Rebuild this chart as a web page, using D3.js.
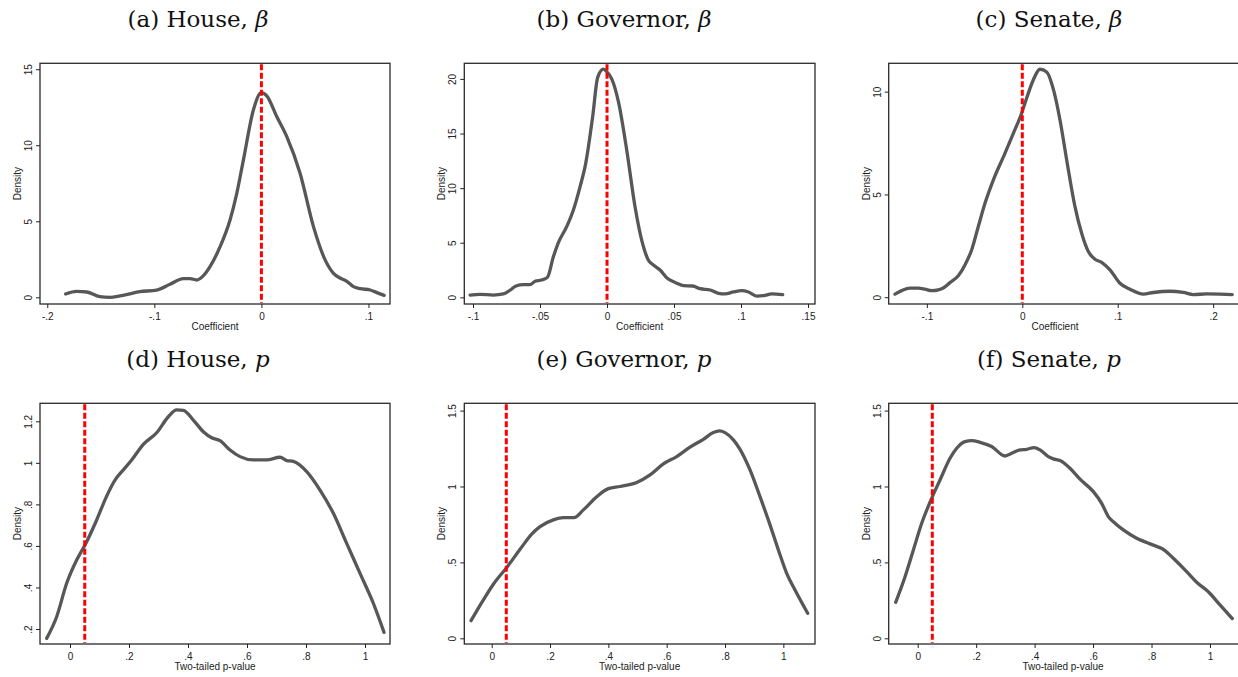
<!DOCTYPE html>
<html>
<head>
<meta charset="utf-8">
<script src="https://cdn.jsdelivr.net/npm/d3@7"></script>
<style>
  html, body { margin: 0; padding: 0; background: #fff; overflow: hidden; }
  svg { display: block; }
</style>
</head>
<body>
<svg id="chart" width="1238" height="677"></svg>
<script>
// Kernel density estimates of the coefficient (beta) and two-tailed p-value
// across specifications, by office.

const houseBetaX = [-0.1829,-0.1726,-0.163,-0.151,-0.1414,-0.132,-0.1134,-0.0978,-0.0854,-0.0729,-0.0667,-0.0604,-0.0551,-0.048,-0.0386,-0.0293,-0.023,-0.0168,-0.0075,0,0.005,0.0143,0.0237,0.0361,0.0486,0.0595,0.0673,0.0735,0.0798,0.086,0.0922,0.1016,0.1078,0.1146];
const houseBetaY = [0.22,0.39,0.35,0.04,0.0,0.09,0.37,0.48,0.86,1.23,1.23,1.14,1.36,2.02,3.33,5.09,6.84,9.04,12.32,13.46,13.25,11.89,10.57,8.16,4.65,2.46,1.58,1.27,1.05,0.70,0.57,0.48,0.31,0.13];

const govBetaX = [-0.1022,-0.0948,-0.0848,-0.0774,-0.0729,-0.0679,-0.0624,-0.0575,-0.0537,-0.0488,-0.0445,-0.04,-0.0363,-0.0301,-0.0251,-0.0201,-0.0159,-0.0107,-0.007,-0.0027,-0.0002,0.0035,0.0085,0.0147,0.0209,0.0266,0.0308,0.0346,0.0396,0.045,0.0507,0.057,0.0639,0.0694,0.0769,0.0831,0.0881,0.0943,0.1005,0.1055,0.1117,0.1167,0.1229,0.1311];
const govBetaY = [0.21,0.27,0.21,0.31,0.61,1.04,1.16,1.16,1.47,1.59,1.83,3.73,5.01,6.47,8.0,10.14,12.27,16.55,20.12,20.89,20.67,20.0,17.92,13.5,8.3,4.89,3.42,2.96,2.50,1.74,1.37,1.07,1.04,0.79,0.67,0.37,0.31,0.49,0.61,0.49,0.12,0.15,0.31,0.24];

const senBetaX = [-0.1334,-0.1264,-0.1177,-0.109,-0.102,-0.095,-0.088,-0.0828,-0.0758,-0.0671,-0.0601,-0.0531,-0.0461,-0.0391,-0.0304,-0.0182,-0.0094,-0.0007,0.0045,0.0115,0.0185,0.0255,0.0332,0.0395,0.0465,0.0552,0.0622,0.0692,0.0761,0.0831,0.0919,0.1023,0.1128,0.1268,0.1373,0.1547,0.1687,0.1792,0.1932,0.2071,0.22];
const senBetaY = [0.15,0.32,0.44,0.44,0.39,0.32,0.36,0.45,0.71,1.04,1.57,2.30,3.44,4.57,5.70,7.0,7.97,8.95,9.68,10.57,11.09,10.96,10.0,8.62,6.68,4.41,3.11,2.22,1.85,1.70,1.33,0.68,0.39,0.15,0.23,0.29,0.23,0.13,0.16,0.15,0.13];

const housePX = [-0.0791,-0.0452,-0.0113,0.0226,0.0508,0.0904,0.1243,0.1525,0.1808,0.209,0.2486,0.2938,0.3333,0.3616,0.3842,0.418,0.452,0.4802,0.5085,0.5424,0.5763,0.6215,0.6667,0.7119,0.7345,0.7571,0.8023,0.8475,0.8927,0.9379,0.9831,1.0282,1.0644];
const housePY = [0.155,0.259,0.42,0.532,0.604,0.725,0.84,0.917,0.966,1.014,1.089,1.145,1.222,1.255,1.253,1.206,1.150,1.121,1.107,1.062,1.03,1.014,1.014,1.027,1.011,1.007,0.958,0.869,0.757,0.612,0.468,0.324,0.184];

const govPX = [-0.0709,-0.0286,0.0057,0.0537,0.0971,0.1371,0.1657,0.2114,0.2457,0.2823,0.3143,0.36,0.4,0.44,0.4971,0.5429,0.5886,0.6343,0.68,0.7257,0.76,0.7806,0.8,0.8286,0.8514,0.8857,0.92,0.9543,0.9829,1.0114,1.04,1.0834];
const govPY = [0.116,0.253,0.356,0.472,0.586,0.687,0.736,0.78,0.795,0.795,0.846,0.933,0.986,1.0,1.026,1.076,1.149,1.197,1.259,1.311,1.355,1.366,1.355,1.307,1.245,1.109,0.933,0.747,0.582,0.428,0.318,0.165];

const senPX = [-0.0753,-0.0433,-0.0148,0.0137,0.0479,0.0764,0.1106,0.1334,0.1619,0.1847,0.2132,0.2531,0.2987,0.3215,0.35,0.3728,0.3979,0.4184,0.447,0.464,0.4869,0.521,0.5553,0.601,0.6294,0.6522,0.675,0.7036,0.749,0.7948,0.846,0.8746,0.9202,0.9544,0.9943,1.0342,1.0764];
const senPY = [0.237,0.406,0.582,0.758,0.922,1.043,1.186,1.252,1.296,1.302,1.291,1.263,1.201,1.219,1.241,1.245,1.256,1.241,1.197,1.182,1.171,1.120,1.048,0.966,0.889,0.802,0.758,0.714,0.659,0.622,0.578,0.527,0.439,0.369,0.307,0.220,0.130];

// Tick values and their labels
const houseBetaXTicks = [-0.2, -0.1, 0, 0.1];
const houseBetaXLabels = ["-.2", "-.1", "0", ".1"];
const houseBetaYTicks = [0, 5, 10, 15];
const houseBetaYLabels = ["0", "5", "10", "15"];

const govBetaXTicks = [-0.1, -0.05, 0, 0.05, 0.1, 0.15];
const govBetaXLabels = ["-.1", "-.05", "0", ".05", ".1", ".15"];
const govBetaYTicks = [0, 5, 10, 15, 20];
const govBetaYLabels = ["0", "5", "10", "15", "20"];

const senBetaXTicks = [-0.1, 0, 0.1, 0.2];
const senBetaXLabels = ["-.1", "0", ".1", ".2"];
const senBetaYTicks = [0, 5, 10];
const senBetaYLabels = ["0", "5", "10"];

const pXTicks = [0, 0.2, 0.4, 0.6, 0.8, 1];
const pXLabels = ["0", ".2", ".4", ".6", ".8", "1"];
const housePYTicks = [0.2, 0.4, 0.6, 0.8, 1, 1.2];
const housePYLabels = [".2", ".4", ".6", ".8", "1", "1.2"];
const otherPYTicks = [0, 0.5, 1, 1.5];
const otherPYLabels = ["0", ".5", "1", "1.5"];

// Reference lines: zero effect and the .05 significance threshold
const betaRef = 0;
const pRef = 0.05;

const titles = [
  ["(a) House, ", "β"], ["(b) Governor, ", "β"], ["(c) Senate, ", "β"],
  ["(d) House, ", "p"], ["(e) Governor, ", "p"], ["(f) Senate, ", "p"]
];

// Panel layout (frame box in pixels, visible data domain)
const panels = [
  { x: houseBetaX, y: houseBetaY, xt: houseBetaXTicks, xl: houseBetaXLabels, yt: houseBetaYTicks, yl: houseBetaYLabels,
    ref: betaRef, xlab: "Coefficient", box: [40, 63.3, 390, 304], xd: [-0.2068, 0.1201], yd: [-0.44, 15.39], title: titles[0], tx: 198, ty: 27 },
  { x: govBetaX, y: govBetaY, xt: govBetaXTicks, xl: govBetaXLabels, yt: govBetaYTicks, yl: govBetaYLabels,
    ref: betaRef, xlab: "Coefficient", box: [464.3, 63.3, 815, 304], xd: [-0.1065, 0.1552], yd: [-0.61, 21.43], title: titles[1], tx: 624, ty: 27 },
  { x: senBetaX, y: senBetaY, xt: senBetaXTicks, xl: senBetaXLabels, yt: senBetaYTicks, yl: senBetaYLabels,
    ref: betaRef, xlab: "Coefficient", box: [888.7, 63.3, 1250, 304], xd: [-0.14, 0.2386], yd: [-0.33, 11.38], title: titles[2], tx: 1049, ty: 27, labX: 1055 },
  { x: housePX, y: housePY, xt: pXTicks, xl: pXLabels, yt: housePYTicks, yl: housePYLabels,
    ref: pRef, xlab: "Two-tailed p-value", box: [40, 403.3, 390, 644], xd: [-0.1017, 1.0847], yd: [0.1278, 1.2867], title: titles[3], tx: 198, ty: 367 },
  { x: govPX, y: govPY, xt: pXTicks, xl: pXLabels, yt: otherPYTicks, yl: otherPYLabels,
    ref: pRef, xlab: "Two-tailed p-value", box: [464.3, 403.3, 815, 644], xd: [-0.094, 1.1085], yd: [-0.0375, 1.548], title: titles[4], tx: 624, ty: 367 },
  { x: senPX, y: senPY, xt: pXTicks, xl: pXLabels, yt: otherPYTicks, yl: otherPYLabels,
    ref: pRef, xlab: "Two-tailed p-value", box: [888.7, 403.3, 1250, 644], xd: [-0.0992, 1.1369], yd: [-0.0375, 1.548], title: titles[5], tx: 1049, ty: 367, labX: 1063 }
];

const svg = d3.select("#chart");
const sans = "'Liberation Sans', Arial, Helvetica, sans-serif";
const serif = "'DejaVu Serif', 'Liberation Serif', serif";

panels.forEach(p => {
  const [x0, y0, x1, y1] = p.box;
  const xs = d3.scaleLinear().domain(p.xd).range([x0, x1]);
  const ys = d3.scaleLinear().domain(p.yd).range([y1, y0]);
  const g = svg.append("g");

  // Panel title
  const t = g.append("text")
    .attr("x", p.tx).attr("y", p.ty)
    .attr("text-anchor", "middle")
    .attr("font-family", serif).attr("font-size", 23)
    .attr("fill", "#111");
  t.append("tspan").text(p.title[0]);
  t.append("tspan").attr("font-style", "italic").text(p.title[1]);

  // Density curve
  const pts = p.x.map((v, i) => [v, p.y[i]]);
  g.append("path")
    .datum(pts)
    .attr("fill", "none")
    .attr("stroke", "#575757")
    .attr("stroke-width", 3.3)
    .attr("stroke-linejoin", "round")
    .attr("stroke-linecap", "round")
    .attr("d", d3.line().x(d => xs(d[0])).y(d => ys(d[1])).curve(d3.curveMonotoneX));

  // Reference line
  g.append("line")
    .attr("x1", xs(p.ref)).attr("x2", xs(p.ref))
    .attr("y1", y0 + 1).attr("y2", y1 - 1)
    .attr("stroke", "#ff0000")
    .attr("stroke-width", 3)
    .attr("stroke-dasharray", "6,2.5");

  // Plot region outline
  g.append("rect")
    .attr("x", x0).attr("y", y0)
    .attr("width", x1 - x0).attr("height", y1 - y0)
    .attr("fill", "none")
    .attr("stroke", "#2a2a2a")
    .attr("stroke-width", 1.3);

  // X axis
  const xAxis = d3.axisBottom(xs)
    .tickValues(p.xt)
    .tickFormat((d, i) => p.xl[i])
    .tickSize(4).tickSizeOuter(0).tickPadding(5);
  const xg = g.append("g").attr("transform", `translate(0,${y1})`).call(xAxis);
  xg.select(".domain").remove();
  xg.selectAll("line").attr("stroke", "#222").attr("stroke-width", 1);
  xg.selectAll("text").attr("font-family", sans).attr("font-size", 10).attr("fill", "#222");

  // Y axis with vertical labels
  const yAxis = d3.axisLeft(ys)
    .tickValues(p.yt)
    .tickFormat((d, i) => p.yl[i])
    .tickSize(4).tickSizeOuter(0);
  const yg = g.append("g").attr("transform", `translate(${x0},0)`).call(yAxis);
  yg.select(".domain").remove();
  yg.selectAll("line").attr("stroke", "#222").attr("stroke-width", 1);
  yg.selectAll("text")
    .attr("font-family", sans).attr("font-size", 10).attr("fill", "#222")
    .attr("x", null).attr("dy", null)
    .attr("text-anchor", "middle")
    .attr("transform", "translate(-8,0) rotate(-90)")
    .attr("y", 0);

  // Axis titles
  g.append("text")
    .attr("x", p.labX !== undefined ? p.labX : (x0 + x1) / 2)
    .attr("y", y1 + 26)
    .attr("text-anchor", "middle")
    .attr("font-family", sans).attr("font-size", 10).attr("fill", "#222")
    .text(p.xlab);
  g.append("text")
    .attr("transform", `translate(${x0 - 19},${(y0 + y1) / 2}) rotate(-90)`)
    .attr("text-anchor", "middle")
    .attr("font-family", sans).attr("font-size", 10).attr("fill", "#222")
    .text("Density");
});
</script>
</body>
</html>
